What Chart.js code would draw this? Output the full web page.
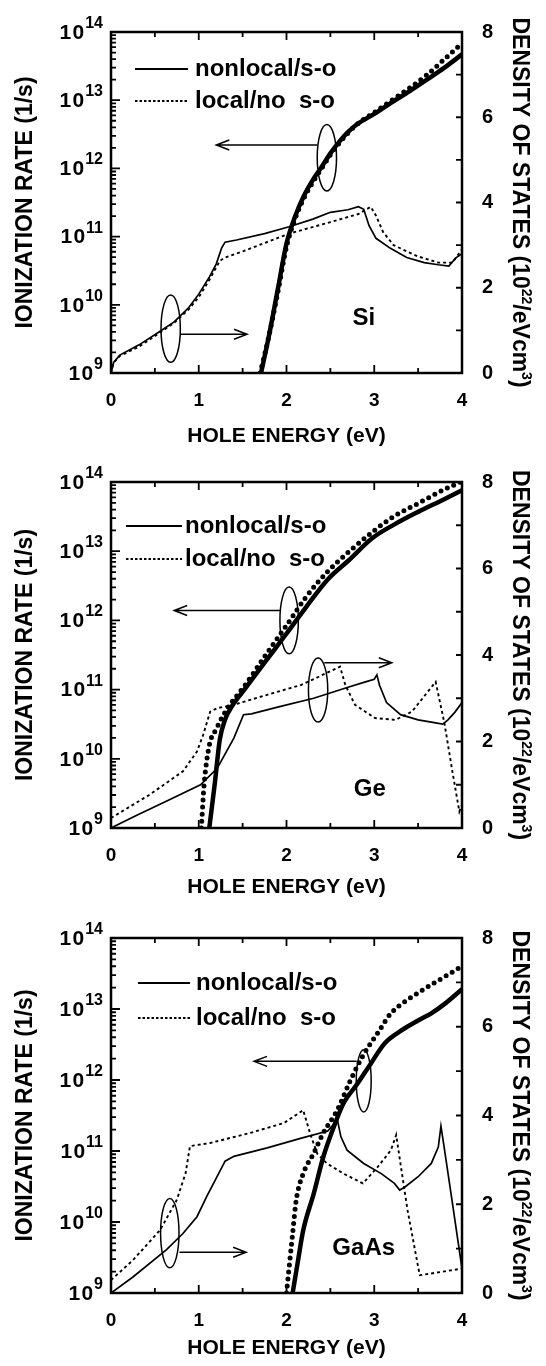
<!DOCTYPE html>
<html lang="en">
<head>
<meta charset="UTF-8">
<title>Hole ionization rate and density of states - Si, Ge, GaAs</title>
<script src="https://cdn.jsdelivr.net/npm/chart.js"></script>
<style>
  body { margin: 0; background: #fff; }
  .panel { position: absolute; left: 0; width: 546px; }
  canvas { display: block; }
</style>
</head>
<body>
<div class="panel" style="top:0"><canvas id="si" width="546" height="450"></canvas></div>
<div class="panel" style="top:450px"><canvas id="ge" width="546" height="450"></canvas></div>
<div class="panel" style="top:900px"><canvas id="gaas" width="546" height="466"></canvas></div>

<script>
// ---- data (energy in eV, rate in 1/s, DOS in 1e22/eV cm^3) ----

// Si
const siRateNlE = [1.71, 1.8, 1.9, 2.0, 2.1, 2.2, 2.3, 2.4, 2.5, 2.6, 2.7, 2.8, 3.0, 3.2, 3.4, 3.6, 3.8, 4.0];
const siRateNl  = [1e9, 3.5e9, 1.66e10, 7.9e10, 2.0e11, 4.0e11, 6.8e11, 1.05e12, 1.66e12, 2.45e12, 3.4e12, 4.4e12, 6.3e12, 9.3e12, 1.35e13, 2.0e13, 3.0e13, 4.7e13];
const siRateLoE = [1.70, 1.8, 1.9, 2.0, 2.1, 2.2, 2.3, 2.4, 2.5, 2.6, 2.7, 2.8, 3.0, 3.2, 3.4, 3.6, 3.8, 4.0];
const siRateLo  = [1e9, 3.5e9, 1.5e10, 7.1e10, 1.86e11, 3.7e11, 6.3e11, 1.0e12, 1.58e12, 2.34e12, 3.3e12, 4.4e12, 6.6e12, 1.0e13, 1.5e13, 2.35e13, 4.0e13, 6.8e13];
const siDosNlE  = [0, 0.03, 0.1, 0.32, 0.56, 0.72, 0.88, 1.0, 1.12, 1.2, 1.26, 1.3, 1.43, 1.75, 2.03, 2.3, 2.5, 2.7, 2.82, 2.88, 2.94, 3.02, 3.18, 3.37, 3.57, 3.73, 3.85, 3.93, 4.0];
const siDosNl   = [0, 0.25, 0.42, 0.66, 0.98, 1.2, 1.52, 1.85, 2.25, 2.56, 2.93, 3.07, 3.12, 3.27, 3.43, 3.61, 3.77, 3.83, 3.9, 3.84, 3.46, 3.16, 2.93, 2.71, 2.59, 2.54, 2.51, 2.7, 2.8];
const siDosLoE  = [0, 0.03, 0.1, 0.32, 0.56, 0.72, 0.88, 1.0, 1.12, 1.24, 1.3, 1.51, 2.03, 2.5, 2.82, 2.96, 3.02, 3.1, 3.22, 3.49, 3.73, 3.89, 4.0];
const siDosLo   = [0, 0.24, 0.4, 0.62, 0.95, 1.18, 1.48, 1.78, 2.18, 2.63, 2.71, 2.86, 3.27, 3.54, 3.73, 3.9, 3.69, 3.31, 3.0, 2.74, 2.59, 2.59, 2.9];

// Ge
const geRateNlE = [1.12, 1.18, 1.24, 1.3, 1.38, 1.52, 1.75, 1.99, 2.23, 2.47, 2.71, 2.98, 3.22, 3.5, 3.78, 4.0];
const geRateNl  = [1e9, 4.1e9, 1.9e10, 3.7e10, 5.8e10, 1.0e11, 2.45e11, 6.2e11, 1.6e12, 3.9e12, 7.4e12, 1.55e13, 2.4e13, 3.7e13, 5.5e13, 7.6e13];
const geRateLoE = [1.03, 1.06, 1.12, 1.2, 1.32, 1.52, 1.75, 1.99, 2.23, 2.47, 2.71, 2.98, 3.22, 3.5, 3.78, 4.0];
const geRateLo  = [1e9, 4.1e9, 1.55e10, 2.7e10, 5.2e10, 1.12e11, 3.0e11, 8.1e11, 2.24e12, 5.1e12, 9.8e12, 1.9e13, 3.16e13, 4.9e13, 7.6e13, 1.02e14];
const geDosNlE  = [0, 0.3, 0.63, 1.02, 1.21, 1.4, 1.51, 1.6, 1.91, 2.31, 2.71, 2.9, 3.0, 3.03, 3.06, 3.14, 3.3, 3.5, 3.7, 3.78, 3.84, 3.92, 4.0];
const geDosNl   = [0, 0.3, 0.62, 1.0, 1.38, 2.08, 2.62, 2.64, 2.8, 3.0, 3.26, 3.38, 3.44, 3.54, 3.3, 2.9, 2.62, 2.5, 2.43, 2.4, 2.5, 2.68, 2.9];
const geDosLoE  = [0, 0.44, 0.82, 0.98, 1.05, 1.13, 1.21, 1.4, 1.78, 2.17, 2.61, 2.67, 2.78, 3.01, 3.24, 3.43, 3.7, 3.8, 3.89, 3.97, 4.0];
const geDosLo   = [0.23, 0.77, 1.31, 1.77, 2.15, 2.69, 2.77, 2.85, 3.08, 3.31, 3.73, 3.31, 2.85, 2.54, 2.5, 2.69, 3.38, 2.42, 1.31, 0.38, 0.54];

// GaAs
const gaRateNlE = [2.07, 2.13, 2.19, 2.31, 2.42, 2.54, 2.65, 2.81, 2.96, 3.12, 3.31, 3.5, 3.65, 3.81, 4.0];
const gaRateNl  = [1e9, 2.8e9, 7.6e9, 2.5e10, 8.3e10, 2.2e11, 4.7e11, 8.9e11, 1.7e12, 3.3e12, 5.0e12, 6.9e12, 8.7e12, 1.2e13, 1.9e13];
const gaRateLoE = [2.0, 2.07, 2.11, 2.19, 2.31, 2.42, 2.58, 2.73, 2.88, 3.04, 3.19, 3.38, 3.58, 3.77, 4.0];
const gaRateLo  = [1e9, 6.9e9, 2.0e10, 4.8e10, 9.3e10, 1.8e11, 3.8e11, 1.0e12, 2.3e12, 4.6e12, 8.7e12, 1.35e13, 1.95e13, 2.7e13, 4.0e13];
const gaDosNlE  = [0, 0.25, 0.63, 0.82, 0.98, 1.09, 1.21, 1.3, 1.4, 1.78, 2.17, 2.47, 2.58, 2.62, 2.69, 2.88, 3.08, 3.23, 3.29, 3.35, 3.5, 3.65, 3.73, 3.76, 3.79, 3.88, 4.0];
const gaDosNl   = [0, 0.36, 0.97, 1.34, 1.72, 2.17, 2.63, 2.97, 3.08, 3.27, 3.49, 3.65, 3.9, 3.52, 3.22, 2.92, 2.69, 2.47, 2.32, 2.39, 2.62, 2.92, 3.29, 3.76, 3.37, 2.17, 0.55];
const gaDosLoE  = [0, 0.25, 0.56, 0.75, 0.85, 0.9, 1.13, 1.59, 1.97, 2.19, 2.27, 2.35, 2.46, 2.65, 2.87, 3.04, 3.19, 3.25, 3.31, 3.38, 3.5, 3.52, 3.65, 4.0];
const gaDosLo   = [0.29, 0.74, 1.42, 2.1, 2.7, 3.31, 3.38, 3.61, 3.83, 4.12, 3.59, 3.14, 2.92, 2.69, 2.47, 2.84, 3.22, 3.56, 2.77, 1.86, 0.59, 0.4, 0.44, 0.55];

// axis tick values
const rateDecades = [9, 10, 11, 12, 13, 14];
const legendLabels = ['nonlocal/s-o', 'local/no\u00a0 s-o'];

// ---- drawing ----
const FONT = "'Liberation Sans', Arial, Helvetica, sans-serif";
Chart.defaults.font.family = FONT;
Chart.defaults.font.weight = 'bold';
Chart.defaults.color = '#000';

const PLOT_LEFT = 111, PLOT_RIGHT = 462;

function pts(xs, ys) {
    return xs.map((v, i) => ({x: v, y: ys[i]}));
}

// frame, inward ticks, superscript labels, legend and the ellipse/arrow marks
const decor = {
    id: 'decor',
    afterDraw(chart, args, o) {
        const {ctx, chartArea: a} = chart;
        const {x, y, y2} = chart.scales;
        ctx.save();
        ctx.strokeStyle = '#000';
        ctx.fillStyle = '#000';

        // inward tick marks
        ctx.lineWidth = 1.8;
        ctx.beginPath();
        for (let k = 1; k < 8; k++) {
            const px = x.getPixelForValue(k / 2), len = k % 2 ? 5 : 8;
            ctx.moveTo(px, a.bottom); ctx.lineTo(px, a.bottom - len);
            ctx.moveTo(px, a.top); ctx.lineTo(px, a.top + len);
        }
        for (let e = 9; e < 14; e++) {
            for (let m = 1; m < 10; m++) {
                if (e === 9 && m === 1) continue;
                const py = y.getPixelForValue(m * Math.pow(10, e)), len = m === 1 ? 9 : 5;
                ctx.moveTo(a.left, py); ctx.lineTo(a.left + len, py);
            }
        }
        for (let d = 1; d < 8; d++) {
            const py = y2.getPixelForValue(d);
            ctx.moveTo(a.right, py); ctx.lineTo(a.right - 6, py);
        }
        ctx.stroke();

        ctx.lineWidth = 2.5;
        ctx.strokeRect(a.left, a.top, a.right - a.left, a.bottom - a.top);

        // left tick labels 10^n
        ctx.textAlign = 'right';
        for (const e of rateDecades) {
            const py = y.getPixelForValue(Math.pow(10, e));
            const edge = a.left - 8;
            ctx.font = `bold 16px ${FONT}`;
            ctx.textBaseline = 'alphabetic';
            ctx.fillText(String(e), edge, py - 4);
            const sw = ctx.measureText(String(e)).width;
            ctx.font = `bold 21px ${FONT}`;
            ctx.textBaseline = 'middle';
            ctx.fillText('1', edge - sw - 14, py + 1);
            ctx.fillText('0', edge - sw - 1, py + 1);
        }

        // right axis title with superscripts, reading top to bottom
        const parts = [['DENSITY OF STATES (10', 23, 0], ['22', 14, -9], ['/eVcm', 23, 0], ['3', 14, -9], [')', 23, 0]];
        let total = 0;
        for (const p of parts) { ctx.font = `bold ${p[1]}px ${FONT}`; total += ctx.measureText(p[0]).width; }
        ctx.save();
        ctx.translate(o.rTitleX, (a.top + a.bottom) / 2);
        ctx.rotate(Math.PI / 2);
        ctx.textAlign = 'left';
        ctx.textBaseline = 'alphabetic';
        let cx = -total / 2;
        for (const p of parts) {
            ctx.font = `bold ${p[1]}px ${FONT}`;
            ctx.fillText(p[0], cx, p[2]);
            cx += ctx.measureText(p[0]).width;
        }
        ctx.restore();

        // legend
        const lg = o.legend;
        ctx.font = `bold 24px ${FONT}`;
        ctx.textAlign = 'left';
        ctx.textBaseline = 'middle';
        ctx.lineWidth = 2;
        legendLabels.forEach((txt, i) => {
            const ly = a.top + lg.rows[i];
            ctx.setLineDash(i === 0 ? [] : [2.5, 2]);
            ctx.beginPath();
            ctx.moveTo(a.left + lg.x0, ly); ctx.lineTo(a.left + lg.x1, ly);
            ctx.stroke();
            ctx.fillText(txt, a.left + lg.tx, ly);
        });
        ctx.setLineDash([]);

        // ellipses grouping the curves and arrows pointing to their axis
        ctx.lineWidth = 1.5;
        for (const el of o.ellipses) {
            const ex = x.getPixelForValue(el.x), ey = y2.getPixelForValue(el.y);
            const rx = Math.abs(x.getPixelForValue(el.x + el.rx) - ex);
            const ry = Math.abs(y2.getPixelForValue(el.y + el.ry) - ey);
            ctx.beginPath();
            ctx.ellipse(ex, ey, rx, ry, 0, 0, 2 * Math.PI);
            ctx.stroke();
        }
        for (const ar of o.arrows) {
            const x0 = x.getPixelForValue(ar.from), x1 = x.getPixelForValue(ar.to), py = y2.getPixelForValue(ar.y);
            const dir = Math.sign(x1 - x0);
            ctx.beginPath();
            ctx.moveTo(x0, py); ctx.lineTo(x1, py);
            ctx.moveTo(x1 - dir * 13, py - 5); ctx.lineTo(x1, py); ctx.lineTo(x1 - dir * 13, py + 5);
            ctx.stroke();
        }

        // material name
        ctx.font = `bold 24px ${FONT}`;
        ctx.textAlign = 'center';
        ctx.textBaseline = 'middle';
        ctx.fillText(o.name.text, x.getPixelForValue(o.name.x), y2.getPixelForValue(o.name.y));
        ctx.restore();
    }
};
Chart.register(decor);

function makePanel(id, d, cfg) {
    const canvas = document.getElementById(id);
    const H = canvas.height;
    const thick = {borderColor: '#000', pointRadius: 0, fill: false, cubicInterpolationMode: 'monotone', yAxisID: 'y'};
    const thin = {borderColor: '#000', pointRadius: 0, fill: false, tension: 0, yAxisID: 'y2'};
    return new Chart(canvas, {
        type: 'line',
        data: {
            datasets: [
                {...thick, label: 'rate nonlocal/s-o', data: pts(d.rateNlE, d.rateNl), borderWidth: 4.5},
                {...thick, label: 'rate local/no s-o', data: pts(d.rateLoE, d.rateLo), borderWidth: 5,
                    borderDash: [0, 7], borderCapStyle: 'round'},
                {...thin, label: 'DOS nonlocal/s-o', data: pts(d.dosNlE, d.dosNl), borderWidth: 1.7},
                {...thin, label: 'DOS local/no s-o', data: pts(d.dosLoE, d.dosLo), borderWidth: 1.9, borderDash: [3, 3]}
            ]
        },
        options: {
            responsive: false,
            animation: false,
            events: [],
            layout: {padding: {top: cfg.top, bottom: 0, left: 0, right: 0}},
            plugins: {
                legend: {display: false},
                tooltip: {enabled: false},
                decor: cfg.decor
            },
            scales: {
                x: {
                    type: 'linear', position: 'bottom', min: 0, max: 4,
                    grid: {display: false, drawTicks: false},
                    border: {display: false},
                    ticks: {stepSize: 1, padding: 16, maxRotation: 0, font: {size: 19}},
                    title: {display: true, text: 'HOLE ENERGY (eV)', font: {size: 21}, padding: {top: 0, bottom: cfg.titlePad}},
                    afterFit: s => { s.height = H - cfg.bottom; }
                },
                y: {
                    type: 'logarithmic', position: 'left', min: 1e9, max: 1e14,
                    grid: {display: false, drawTicks: false},
                    border: {display: false},
                    ticks: {display: false},
                    title: {display: true, text: 'IONIZATION RATE (1/s)', font: {size: 23}, padding: {top: 12, bottom: 0}},
                    afterFit: s => { s.width = PLOT_LEFT; }
                },
                y2: {
                    type: 'linear', position: 'right', min: 0, max: 8,
                    grid: {display: false, drawTicks: false},
                    border: {display: false},
                    ticks: {stepSize: 2, padding: 20, font: {size: 20}},
                    afterFit: s => { s.width = 546 - PLOT_RIGHT; }
                }
            }
        }
    });
}

makePanel('si',
    {rateNlE: siRateNlE, rateNl: siRateNl, rateLoE: siRateLoE, rateLo: siRateLo,
     dosNlE: siDosNlE, dosNl: siDosNl, dosLoE: siDosLoE, dosLo: siDosLo},
    {top: 21, bottom: 373, titlePad: 1.5, decor: {
        rTitleX: 513,
        legend: {x0: 24, x1: 77, tx: 84, rows: [37, 69]},
        ellipses: [{x: 2.46, y: 5.05, rx: 0.11, ry: 0.78}, {x: 0.68, y: 1.04, rx: 0.11, ry: 0.79}],
        arrows: [{from: 2.35, to: 1.2, y: 5.35}, {from: 0.79, to: 1.55, y: 0.91}],
        name: {text: 'Si', x: 2.88, y: 1.27}
    }});

makePanel('ge',
    {rateNlE: geRateNlE, rateNl: geRateNl, rateLoE: geRateLoE, rateLo: geRateLo,
     dosNlE: geDosNlE, dosNl: geDosNl, dosLoE: geDosLoE, dosLo: geDosLo},
    {top: 28, bottom: 378, titlePad: 0, decor: {
        rTitleX: 513,
        legend: {x0: 15, x1: 71, tx: 74, rows: [44, 77]},
        ellipses: [{x: 2.03, y: 4.8, rx: 0.105, ry: 0.77}, {x: 2.36, y: 3.19, rx: 0.11, ry: 0.74}],
        arrows: [{from: 1.93, to: 0.72, y: 5.03}, {from: 2.43, to: 3.2, y: 3.82}],
        name: {text: 'Ge', x: 2.95, y: 0.9}
    }});

makePanel('gaas',
    {rateNlE: gaRateNlE, rateNl: gaRateNl, rateLoE: gaRateLoE, rateLo: gaRateLo,
     dosNlE: gaDosNlE, dosNl: gaDosNl, dosLoE: gaDosLoE, dosLo: gaDosLo},
    {top: 38, bottom: 393, titlePad: 5, decor: {
        rTitleX: 513,
        legend: {x0: 27, x1: 79, tx: 85, rows: [45, 80]},
        ellipses: [{x: 2.88, y: 4.78, rx: 0.085, ry: 0.7}, {x: 0.67, y: 1.35, rx: 0.105, ry: 0.78}],
        arrows: [{from: 2.8, to: 1.63, y: 5.22}, {from: 0.78, to: 1.54, y: 0.92}],
        name: {text: 'GaAs', x: 2.88, y: 1.0}
    }});
</script>
</body>
</html>
